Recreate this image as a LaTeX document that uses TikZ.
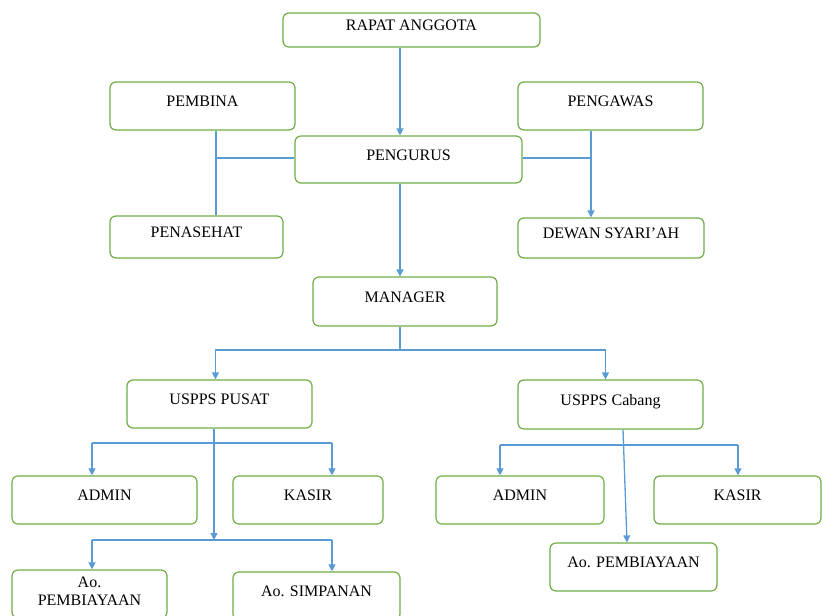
\documentclass[tikz,border=0pt]{standalone}
\usepackage{fontspec}
\setmainfont{Liberation Serif}
\usetikzlibrary{arrows.meta, positioning, calc}
\definecolor{boxGreen}{RGB}{112, 173, 71}
\definecolor{lineBlue}{RGB}{91, 155, 213}

\begin{document}
\begin{tikzpicture}[
        x=1pt, y=-1pt,
        box/.style={rectangle, rounded corners=6pt, draw=boxGreen, line width=1.2pt, fill=white, minimum height=48pt, align=center, text height=10pt, text depth=9pt, inner sep=2pt, font=\fontsize{16}{18}\selectfont},
        link/.style={lineBlue, line width=1.3pt},
        arrow/.style={-{Triangle[length=7pt, width=7pt]}, lineBlue, line width=1.3pt}
    ]
        \useasboundingbox (0,0) rectangle (823,616);

        % Top level
        \node[box, minimum width=257pt, minimum height=34pt] (rapat) at (411.5,30) {RAPAT ANGGOTA};
        \node[box, minimum width=185pt] (pembina) at (202.5,106) {PEMBINA};
        \node[box, minimum width=185pt] (pengawas) at (610.5,106) {PENGAWAS};
        \node[box, minimum width=227pt, minimum height=47pt] (pengurus) at (408.5,159.5) {PENGURUS};
        \node[box, minimum width=173pt, minimum height=42pt] (penasehat) at (196.5,237) {PENASEHAT};
        \node[box, minimum width=186pt, minimum height=40pt] (dewan) at (611,238) {DEWAN SYARI'AH};
        \node[box, minimum width=184pt, minimum height=49pt] (manager) at (405,301.5) {MANAGER};

        % Units
        \node[box, minimum width=185pt] (pusat) at (219.5,404) {USPPS PUSAT};
        \node[box, minimum width=185pt, minimum height=49pt] (cabang) at (610.5,404.5) {USPPS Cabang};

        % Staff of USPPS Pusat
        \node[box, minimum width=185pt] (adminA) at (104.5,500) {ADMIN};
        \node[box, minimum width=150pt] (kasirA) at (308,500) {KASIR};
        \node[box, minimum width=155pt, text height=28pt, text depth=6pt] (aopA) at (89.5,594) {Ao.\\PEMBIAYAAN};
        \node[box, minimum width=167pt] (aosA) at (316.5,596) {Ao. SIMPANAN};

        % Staff of USPPS Cabang
        \node[box, minimum width=168pt] (adminB) at (520,500) {ADMIN};
        \node[box, minimum width=167pt] (kasirB) at (737.5,500) {KASIR};
        \node[box, minimum width=167pt] (aopB) at (633.5,567) {Ao. PEMBIAYAAN};

        % Trunks and buses
        \coordinate (trunk) at (400,0);
        \coordinate (trunkL) at (216,0);
        \coordinate (trunkR) at (591,0);
        \coordinate (mbus) at (400,350);
        \coordinate (pa) at (92,443);
        \coordinate (pb) at (332,443);
        \coordinate (pdrop) at (214,540);
        \coordinate (pc) at (92,540);
        \coordinate (pd) at (332,540);
        \coordinate (ca) at (500,445);
        \coordinate (cb) at (738,445);

        \draw[arrow] (rapat.south -| trunk) -- (pengurus.north -| trunk);
        \draw[link] (pembina.south -| trunkL) -- (penasehat.north -| trunkL);
        \draw[link] ([yshift=1.5pt]pengurus.west) -- ([yshift=1.5pt]pengurus.west -| trunkL);
        \draw[arrow] (pengawas.south -| trunkR) -- (dewan.north -| trunkR);
        \draw[link] ([yshift=1.5pt]pengurus.east) -- ([yshift=1.5pt]pengurus.east -| trunkR);
        \draw[arrow] (pengurus.south -| trunk) -- (manager.north -| trunk);

        \draw[link] (manager.south -| trunk) -- (mbus);
        \draw[arrow] (mbus) -| ([xshift=-4pt]pusat.north);
        \draw[arrow] (mbus) -| ([xshift=-5pt]cabang.north);

        \draw[link] (pa) -- (pb);
        \draw[arrow] (pa) -- (adminA.north -| pa);
        \draw[arrow] (pb) -- (kasirA.north -| pb);
        \draw[arrow] (pusat.south -| pdrop) -- (pdrop);
        \draw[link] (pc) -- (pd);
        \draw[arrow] (pc) -- (aopA.north -| pc);
        \draw[arrow] (pd) -- (aosA.north -| pd);

        \draw[link] (ca) -- (cb);
        \draw[arrow] (ca) -- (adminB.north -| ca);
        \draw[arrow] (cb) -- (kasirB.north -| cb);
        \draw[arrow] ([xshift=12.5pt]cabang.south) -- ([xshift=-6.5pt]aopB.north);
    \end{tikzpicture}
\end{document}
